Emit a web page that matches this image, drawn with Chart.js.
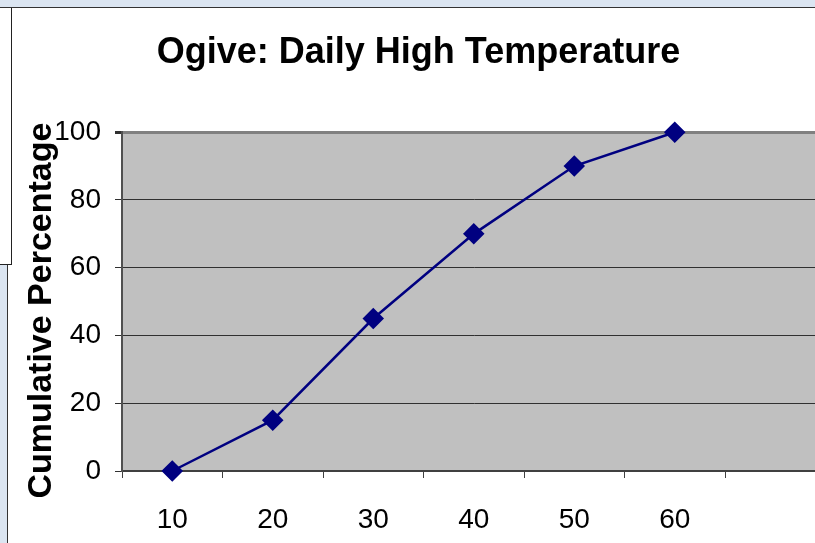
<!DOCTYPE html>
<html lang="en">
  <head>
    <meta charset="UTF-8" />
    <title>Ogive: Daily High Temperature</title>
    <script src="https://cdn.jsdelivr.net/npm/chart.js@4"></script>
    <style>
      body {
        margin: 0;
        width: 815px;
        height: 543px;
        overflow: hidden;
        background: #ffffff;
        position: relative;
        font-family: "Liberation Sans", Arial, sans-serif;
      }

      .top-strip {
        position: absolute;
        left: 0;
        top: 0;
        width: 815px;
        height: 7px;
        background: #dbe5f1;
        border-bottom: 1px solid #333;
      }

      .side-strip {
        position: absolute;
        left: 0;
        top: 8px;
        width: 7px;
        height: 535px;
        background: #dbe5f1;
        border-right: 1px solid #333;
      }

      .side-box {
        position: absolute;
        left: 0;
        top: 8px;
        width: 11px;
        height: 256px;
        border-right: 1px solid #222;
        border-bottom: 1px solid #222;
        background: #ffffff;
      }

      .chart-wrap {
        position: absolute;
        left: 0;
        top: 0;
        width: 837px;
        height: 543px;
      }
    </style>
  </head>
  <body>
    <div class="chart-wrap">
      <canvas id="ogive" width="837" height="543"></canvas>
    </div>
    <div class="top-strip"></div>
    <div class="side-strip"></div>
    <div class="side-box"></div>

    <script>
      // upper class limits (last slot left blank) and cumulative %
      const temps = ["10", "20", "30", "40", "50", "60", ""];
      const cumPercent = [0, 15, 45, 70, 90, 100, null];
      const yTicks = [0, 20, 40, 60, 80, 100];
      const yTitle = "Cumulative Percentage";

      const plotBg = {
        id: "plotBg",
        beforeDraw(chart) {
          const { ctx, chartArea: a } = chart;
          ctx.save();
          ctx.fillStyle = "#c0c0c0";
          ctx.fillRect(a.left, a.top, a.right - a.left, a.bottom - a.top);
          ctx.restore();
        },
      };

      // rotated y-axis caption, sitting a bit below the plot's middle
      const axisTitle = {
        id: "axisTitle",
        afterDraw(chart) {
          const { ctx, chartArea: a } = chart;
          ctx.save();
          ctx.translate(42, (a.top + a.bottom) / 2 + 9);
          ctx.rotate(-Math.PI / 2);
          ctx.font = "bold 34px 'Liberation Sans'";
          ctx.fillStyle = "#000";
          ctx.textAlign = "center";
          ctx.textBaseline = "middle";
          ctx.fillText(yTitle, 0, 0);
          ctx.restore();
        },
      };

      new Chart(document.getElementById("ogive"), {
        type: "line",
        data: {
          labels: temps,
          datasets: [
            {
              data: cumPercent,
              borderColor: "#000080",
              backgroundColor: "#000080",
              borderWidth: 2.5,
              pointStyle: "rectRot",
              pointRadius: 9,
              pointHoverRadius: 9,
              tension: 0,
              clip: false,
            },
          ],
        },
        options: {
          responsive: false,
          animation: false,
          events: [],
          plugins: {
            legend: { display: false },
            tooltip: { enabled: false },
            title: {
              display: true,
              text: "Ogive: Daily High Temperature",
              color: "#000",
              font: { family: "Liberation Sans", size: 36, weight: "bold" },
              padding: { top: 31, bottom: 58 },
            },
          },
          scales: {
            x: {
              offset: true,
              grid: {
                offset: true,
                drawOnChartArea: false,
                color: "#404040",
                tickLength: 7,
              },
              border: { color: "#404040", width: 2 },
              ticks: {
                color: "#000",
                padding: 25,
                maxRotation: 0,
                autoSkip: false,
                font: { family: "Liberation Sans", size: 28 },
              },
              afterFit(scale) {
                scale.height = 72;
              },
            },
            y: {
              min: 0,
              max: 100,
              afterBuildTicks(scale) {
                scale.ticks = yTicks.map((v) => ({ value: v }));
              },
              grid: {
                color: (ctx) =>
                  ctx.tick && ctx.tick.value === 100 ? "#808080" : "#303030",
                lineWidth: (ctx) =>
                  ctx.tick && ctx.tick.value === 100 ? 3 : 1,
                tickColor: "#303030",
                tickLength: 7,
              },
              border: { color: "#505050", width: 2 },
              ticks: {
                color: "#000",
                padding: 14,
                font: { family: "Liberation Sans", size: 28 },
              },
              afterFit(scale) {
                scale.width = 122;
              },
            },
          },
        },
        plugins: [plotBg, axisTitle],
      });
    </script>
  </body>
</html>
